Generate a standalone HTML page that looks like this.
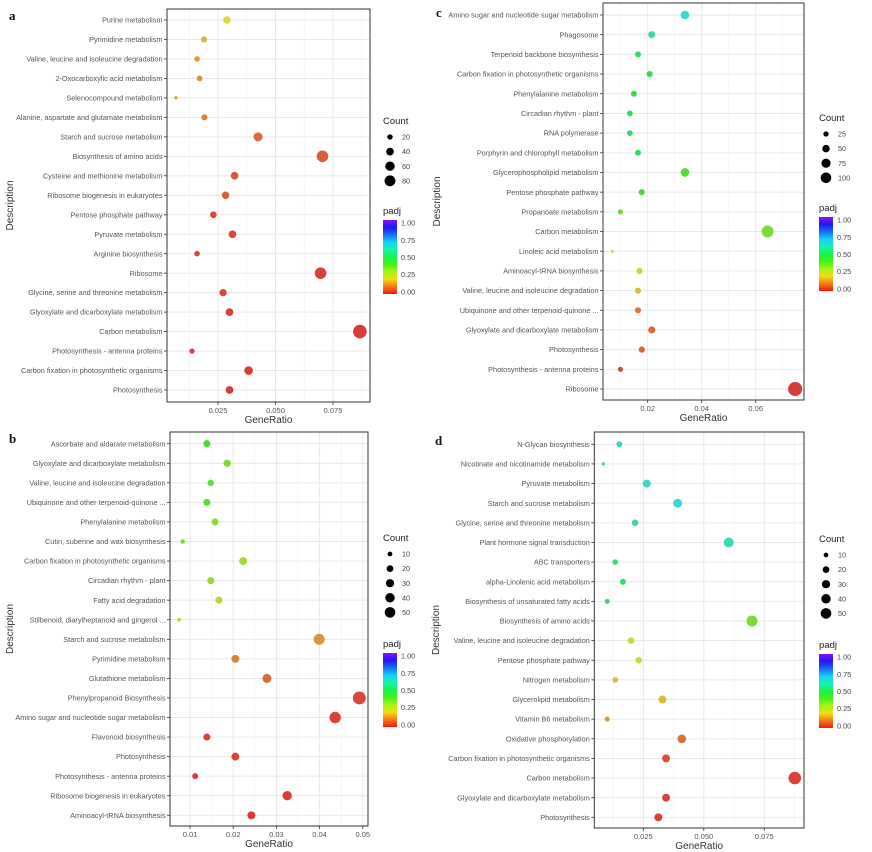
<!DOCTYPE html>
<html><head><meta charset="utf-8"><style>
body{margin:0;background:#fff;}
svg{display:block;font-family:"Liberation Sans",sans-serif;}
</style></head><body>
<svg id="chart" width="872" height="852" viewBox="0 0 872 852" xmlns="http://www.w3.org/2000/svg"></svg>
<script>
// ---- Panel a data ----
const aLabels=["Purine metabolism","Pyrimidine metabolism","Valine, leucine and isoleucine degradation","2-Oxocarboxylic acid metabolism","Selenocompound metabolism","Alanine, aspartate and glutamate metabolism","Starch and sucrose metabolism","Biosynthesis of amino acids","Cysteine and methionine metabolism","Ribosome biogenesis in eukaryotes","Pentose phosphate pathway","Pyruvate metabolism","Arginine biosynthesis","Ribosome","Glycine, serine and threonine metabolism","Glyoxylate and dicarboxylate metabolism","Carbon metabolism","Photosynthesis - antenna proteins","Carbon fixation in photosynthetic organisms","Photosynthesis"];
const aRatio=[0.0289,0.0189,0.0159,0.017,0.0067,0.0191,0.0424,0.0704,0.0322,0.0283,0.023,0.0313,0.0159,0.0696,0.0272,0.03,0.0867,0.0137,0.0383,0.03];
const aCount=[38,25,21,22,8,25,55,90,40,37,30,40,21,90,36,40,125,18,50,40];
const aPadj=[0.22,0.17,0.14,0.13,0.15,0.1,0.07,0.05,0.04,0.05,0.02,0.02,0.02,0.01,0.015,0.005,0.001,0.003,0.001,0.001];
const aTicks=[0.025,0.05,0.075];
const aTickLabels=["0.025","0.050","0.075"];
const aSizeLegend=[20,40,60,80];
// ---- Panel b data ----
const bLabels=["Ascorbate and aldarate metabolism","Glyoxylate and dicarboxylate metabolism","Valine, leucine and isoleucine degradation","Ubiquinone and other terpenoid-quinone ...","Phenylalanine metabolism","Cutin, suberine and wax biosynthesis","Carbon fixation in photosynthetic organisms","Circadian rhythm - plant","Fatty acid degradation","Stilbenoid, diarylheptanoid and gingerol ...","Starch and sucrose metabolism","Pyrimidine metabolism","Glutathione metabolism","Phenylpropanoid Biosynthesis","Amino sugar and nucleotide sugar metabolism","Flavonoid biosynthesis","Photosynthesis","Photosynthesis - antenna proteins","Ribosome biogenesis in eukaryotes","Aminoacyl-tRNA biosynthesis"];
const bRatio=[0.0139,0.0186,0.0148,0.0139,0.0158,0.0083,0.0223,0.0148,0.0167,0.0075,0.0399,0.0205,0.0278,0.0492,0.0436,0.0139,0.0205,0.0112,0.0325,0.0242];
const bCount=[22,24,18,22,22,9,28,22,22,6,54,28,36,75,58,22,28,16,39,28];
const bPadj=[0.42,0.35,0.38,0.4,0.33,0.35,0.3,0.32,0.28,0.2,0.13,0.1,0.07,0.02,0.01,0.01,0.01,0.005,0.005,0];
const bTicks=[0.01,0.02,0.03,0.04,0.05];
const bTickLabels=["0.01","0.02","0.03","0.04","0.05"];
const bSizeLegend=[10,20,30,40,50];
// ---- Panel c data ----
const cLabels=["Amino sugar and nucleotide sugar metabolism","Phagosome","Terpenoid backbone biosynthesis","Carbon fixation in photosynthetic organisms","Phenylalanine metabolism","Circadian rhythm - plant","RNA polymerase","Porphyrin and chlorophyll metabolism","Glycerophospholipid metabolism","Pentose phosphate pathway","Propanoate metabolism","Carbon metabolism","Linoleic acid metabolism","Aminoacyl-tRNA biosynthesis","Valine, leucine and isoleucine degradation","Ubiquinone and other terpenoid-quinone ...","Glyoxylate and dicarboxylate metabolism","Photosynthesis","Photosynthesis - antenna proteins","Ribosome"];
const cRatio=[0.0338,0.0215,0.0164,0.0207,0.0149,0.0134,0.0134,0.0164,0.0338,0.0178,0.0099,0.0644,0.0069,0.017,0.0164,0.0164,0.0215,0.0178,0.0099,0.0746];
const cCount=[66,44,32,34,32,30,30,32,66,34,22,128,8,34,32,32,44,34,22,175];
const cPadj=[0.65,0.6,0.5,0.48,0.47,0.5,0.52,0.5,0.4,0.42,0.38,0.35,0.25,0.25,0.18,0.08,0.06,0.06,0.01,0];
const cTicks=[0.02,0.04,0.06];
const cTickLabels=["0.02","0.04","0.06"];
const cSizeLegend=[25,50,75,100];
// ---- Panel d data ----
const dLabels=["N-Glycan biosynthesis","Nicotinate and nicotinamide metabolism","Pyruvate metabolism","Starch and sucrose metabolism","Glycine, serine and threonine metabolism","Plant hormone signal transduction","ABC transporters","alpha-Linolenic acid metabolism","Biosynthesis of unsaturated fatty acids","Biosynthesis of amino acids","Valine, leucine and isoleucine degradation","Pentose phosphate pathway","Nitrogen metabolism","Glycerolipid metabolism","Vitamin B6 metabolism","Oxidative phosphorylation","Carbon fixation in photosynthetic organisms","Carbon metabolism","Glyoxylate and dicarboxylate metabolism","Photosynthesis"];
const dRatio=[0.0151,0.0085,0.0264,0.0392,0.0216,0.0603,0.0134,0.0166,0.0101,0.0699,0.0199,0.0231,0.0134,0.0329,0.0101,0.0409,0.0344,0.0876,0.0344,0.0312];
const dCount=[16,5,28,36,19,44,14,16,11,54,19,19,14,28,11,33,28,70,28,28];
const dPadj=[0.62,0.58,0.64,0.66,0.58,0.62,0.55,0.52,0.52,0.35,0.25,0.25,0.18,0.18,0.13,0.08,0.03,0.01,0.01,0.005];
const dTicks=[0.025,0.05,0.075];
const dTickLabels=["0.025","0.050","0.075"];
const dSizeLegend=[10,20,30,40,50];

const NS="http://www.w3.org/2000/svg";
const svg=document.getElementById('chart');
function mk(tag,attrs,parent){const e=document.createElementNS(NS,tag);for(const k in attrs)e.setAttribute(k,attrs[k]);(parent||svg).appendChild(e);return e;}
function col(p){return 'hsl('+(p*270).toFixed(1)+',68%,54%)';}

const defs=mk('defs',{});
const grad=mk('linearGradient',{id:'padjGrad',x1:'0',y1:'1',x2:'0',y2:'0'},defs);
for(let i=0;i<=10;i++){mk('stop',{offset:(i*10)+'%','stop-color':'hsl('+(i*27)+',90%,52%)'},grad);}

const panels=[
 {id:'a',L:aLabels,R:aRatio,C:aCount,P:aPadj,T:aTicks,TL:aTickLabels,S:aSizeLegend,x0:167,x1:370,y0:9,y1:402,v0:0,v1:0.025,p0:160.5,p1:218,r0:20,r1:390,k:0.61,letterX:9,letterY:20,legX:383,legY:121,minor:0.0125},
 {id:'b',L:bLabels,R:bRatio,C:bCount,P:bPadj,T:bTicks,TL:bTickLabels,S:bSizeLegend,x0:170,x1:368,y0:432,y1:826,v0:0,v1:0.01,p0:146.8,p1:190,r0:443.7,r1:815.3,k:0.75,letterX:9,letterY:443,legX:383,legY:538,minor:0.005},
 {id:'c',L:cLabels,R:cRatio,C:cCount,P:cPadj,T:cTicks,TL:cTickLabels,S:cSizeLegend,x0:603,x1:804,y0:3,y1:400,v0:0,v1:0.02,p0:593.7,p1:647.7,r0:15,r1:389,k:0.53,letterX:436,letterY:17,legX:819,legY:118,minor:0.01},
 {id:'d',L:dLabels,R:dRatio,C:dCount,P:dPadj,T:dTicks,TL:dTickLabels,S:dSizeLegend,x0:594.3,x1:804,y0:432,y1:828,v0:0,v1:0.025,p0:582.8,p1:643.3,r0:444.3,r1:817.3,k:0.75,letterX:435,letterY:445,legX:819,legY:539,minor:0.0125}
];

panels.forEach(pn=>{
 const g=mk('g',{});
 
 
 const xs=v=>pn.p0+(v-pn.v0)/(pn.v1-pn.v0)*(pn.p1-pn.p0);
 const n=pn.L.length;
 const ys=i=>pn.r0+i*(pn.r1-pn.r0)/(n-1);
 mk('rect',{x:pn.x0,y:pn.y0,width:pn.x1-pn.x0,height:pn.y1-pn.y0,fill:'#fff'},g);
 for(let v=pn.minor;xs(v)<pn.x1;v+=pn.minor*2){const x=xs(v);if(x>pn.x0){const l=mk('line',{x1:x,x2:x,y1:pn.y0,y2:pn.y1,stroke:'#f2f2f2','stroke-width':0.6},g);}}
 pn.T.forEach((v,i)=>{const x=xs(v);
  const l=mk('line',{x1:x,x2:x,y1:pn.y0,y2:pn.y1,stroke:'#e6e6e6','stroke-width':0.9},g);
  
  mk('line',{x1:x,x2:x,y1:pn.y1,y2:pn.y1+3,stroke:'#333','stroke-width':0.8},g);
  const t=mk('text',{x:x,y:pn.y1+11,'font-size':7.5,fill:'#555','text-anchor':'middle'},g);
  t.textContent=pn.TL[i];
  
 });
 pn.L.forEach((lab,i)=>{const y=ys(i);
  const l=mk('line',{x1:pn.x0,x2:pn.x1,y1:y,y2:y,stroke:'#e6e6e6','stroke-width':0.9},g);
  
  mk('line',{x1:pn.x0-3,x2:pn.x0,y1:y,y2:y,stroke:'#333','stroke-width':0.8},g);
  const t=mk('text',{x:pn.x0-4.5,y:y+2.6,'font-size':7.3,fill:'#555','text-anchor':'end'},g);
  t.textContent=lab;
  
 });
 pn.L.forEach((lab,i)=>{
  const c=mk('circle',{cx:xs(pn.R[i]),cy:ys(i),r:pn.k*Math.sqrt(pn.C[i]),fill:col(pn.P[i])},g);
  
  
 });
 const fr=mk('rect',{x:pn.x0,y:pn.y0,width:pn.x1-pn.x0,height:pn.y1-pn.y0,fill:'none',stroke:'#333','stroke-width':1},g);
 
 const xt=mk('text',{x:(pn.x0+pn.x1)/2,y:pn.y1+21,'font-size':10,fill:'#333','text-anchor':'middle'},g);
 xt.textContent='GeneRatio';
 
 const yc=(pn.y0+pn.y1)/2, yx=pn.letterX+4;
 const yt=mk('text',{x:yx,y:yc,'font-size':10,fill:'#333','text-anchor':'middle',transform:'rotate(-90 '+yx+' '+yc+')'},g);
 yt.textContent='Description';
 
 const lt=mk('text',{x:pn.letterX,y:pn.letterY,'font-size':13,'font-family':'Liberation Serif,serif','font-weight':'bold',fill:'#111'},g);
 lt.textContent=pn.id;
 
 const lg=mk('g',{},g);
 
 const ct=mk('text',{x:pn.legX,y:pn.legY+3,'font-size':9.5,fill:'#222'},lg);
 ct.textContent='Count';
 
 pn.S.forEach((s,i)=>{const y=pn.legY+16+i*14.6;
  const c=mk('circle',{cx:pn.legX+7,cy:y,r:pn.k*Math.sqrt(s),fill:'#000'},lg);
  
  const t=mk('text',{x:pn.legX+19,y:y+2.6,'font-size':7.3,fill:'#444'},lg);
  t.textContent=s;
  
 });
 const py=pn.legY+93+(pn.S.length-4)*16;
 const pt=mk('text',{x:pn.legX,y:py,'font-size':9.5,fill:'#222'},lg);
 pt.textContent='padj';
 
 const by=py+6;
 const br=mk('rect',{x:pn.legX,y:by,width:14,height:74,fill:'url(#padjGrad)'},lg);
 
 ["1.00","0.75","0.50","0.25","0.00"].forEach((s,i)=>{const y=by+3+i*17.2;
  const t=mk('text',{x:pn.legX+18,y:y+2.6,'font-size':7.3,fill:'#444'},lg);
  t.textContent=s;
  
 });
});
</script>
</body></html>
